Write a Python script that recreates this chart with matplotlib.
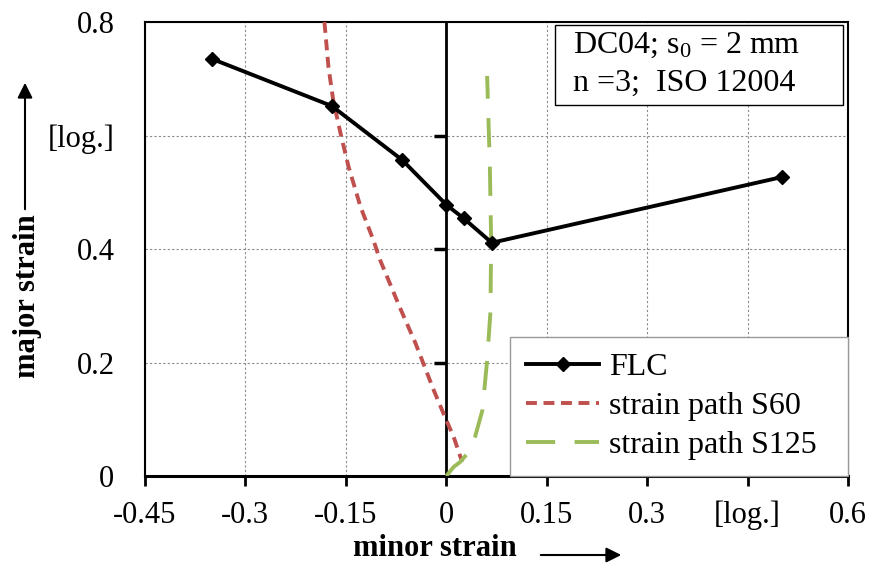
"""Forming limit curve of DC04 with two measured strain paths."""
import matplotlib
matplotlib.use("Agg")
import matplotlib.pyplot as plt
from matplotlib.markers import TICKLEFT
from matplotlib.patches import FancyArrowPatch, Rectangle

plt.rcParams["font.family"] = ["Liberation Serif", "DejaVu Serif"]
plt.rcParams["mathtext.default"] = "regular"

FLC_X = [-0.35, -0.171, -0.066, 0.0, 0.026, 0.068, 0.502]
FLC_Y = [0.735, 0.652, 0.557, 0.478, 0.454, 0.411, 0.527]

S60_X = [-0.182, -0.176, -0.169, -0.158, -0.146, -0.128, -0.109, -0.099,
         -0.069, -0.046, -0.019, -0.002, 0.011, 0.021, 0.024]
S60_Y = [0.80, 0.721, 0.663, 0.604, 0.545, 0.474, 0.416, 0.381,
         0.296, 0.234, 0.152, 0.104, 0.069, 0.034, 0.025]

S125_X = [0.0, 0.011, 0.021, 0.031, 0.043, 0.054, 0.061, 0.066, 0.067, 0.065, 0.061]
S125_Y = [0.0, 0.016, 0.025, 0.039, 0.069, 0.116, 0.204, 0.29, 0.415, 0.55, 0.705]

XTICKS = [-0.45, -0.3, -0.15, 0, 0.15, 0.3, 0.45, 0.6]
XLABELS = ["-0.45", "-0.3", "-0.15", "0", "0.15", "0.3", "[log.]", "0.6"]
YTICKS = [0, 0.2, 0.4, 0.6, 0.8]
YLABELS = ["0", "0.2", "0.4", "[log.]", "0.8"]

FS = 22
RED = "#c0504d"
GREEN = "#9bbb59"

fig = plt.figure(figsize=(8.7, 5.64), dpi=100)
ax = fig.add_axes([145/870, 1-476/564, (848-145)/870, (476-22)/564])
ax.set_xlim(-0.45, 0.6)
ax.set_ylim(0, 0.8)

ax.plot(FLC_X, FLC_Y, color="black", lw=2.8, marker="D", ms=7, label="FLC", zorder=5)
ax.plot(S60_X, S60_Y, color=RED, lw=2.8, ls=(0, (2.8, 1.7)), label="strain path S60", zorder=4)
ax.plot(S125_X, S125_Y, color=GREEN, lw=2.8, ls=(0, (7.5, 5)), label="strain path S125", zorder=4)

ax.set_xticks(XTICKS)
ax.set_xticklabels(XLABELS, fontsize=FS)
ax.set_yticks(YTICKS)
ax.set_yticklabels(YLABELS, fontsize=FS)
ax.tick_params(axis="x", direction="out", length=7, width=2, pad=11)
ax.tick_params(axis="y", length=0, pad=22)
ax.grid(color="#8a8a8a", ls=(0, (2, 2)), lw=0.8)
for s in ["left", "top", "right"]:
    ax.spines[s].set_linewidth(1.5)
ax.spines["bottom"].set_linewidth(2.2)

# y axis line through minor strain = 0, ticks pointing left
ax.axvline(0, color="black", lw=2, zorder=3)
ax.plot([0] * 3, YTICKS[1:4], ls="none", marker=TICKLEFT, ms=9, mew=2.5,
        color="black", zorder=3)

# info box
ax.add_patch(Rectangle((0.583, 0.817), 0.41, 0.176, transform=ax.transAxes,
                       fc="white", ec="black", lw=1, zorder=6))
ax.text(0.609, 0.948, "DC04; s$_0$ = 2 mm", transform=ax.transAxes,
        fontsize=23, va="center", ha="left", zorder=7)
ax.text(0.609, 0.866, "n =3;  ISO 12004", transform=ax.transAxes,
        fontsize=23, va="center", ha="left", zorder=7)

leg = ax.legend(loc="lower left", bbox_to_anchor=(0.519, 0, 0.481, 0.3), mode="expand",
                fontsize=23, fancybox=False, borderaxespad=0,
                handlelength=2.3, handletextpad=0.3, labelspacing=0.3,
                borderpad=0.5, framealpha=1)
leg.get_frame().set_edgecolor("#999999")
leg.get_frame().set_linewidth(1)
leg.set_zorder(8)

fig.text(28/870, 1-296/564, "major strain", rotation=90, fontsize=FS, fontweight="bold",
         ha="center", va="center")
fig.add_artist(FancyArrowPatch(
    (25/870, 1-212/564), (25/870, 1-80/564), transform=fig.transFigure,
    arrowstyle="-|>,head_length=9,head_width=4.5", color="black", lw=1.5))

fig.text(435/870, 1-549/564, "minor strain", fontsize=FS, fontweight="bold",
         ha="center", va="center")
fig.add_artist(FancyArrowPatch(
    (538/870, 1-555/564), (624/870, 1-555/564), transform=fig.transFigure,
    arrowstyle="-|>,head_length=9,head_width=4.5", color="black", lw=1.5))

fig.savefig("out.png", dpi=100)
